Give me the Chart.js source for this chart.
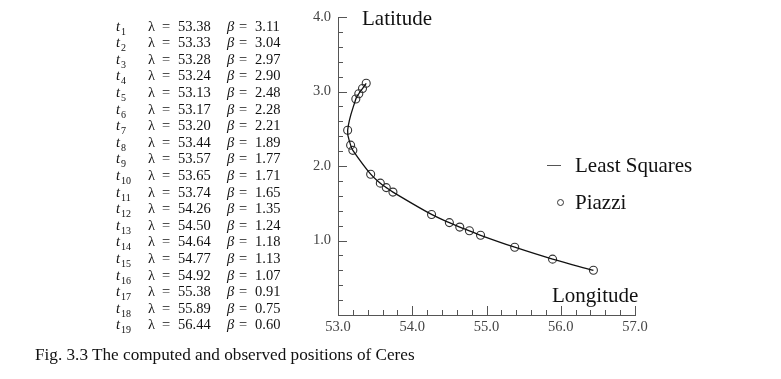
<!DOCTYPE html>
<html>
<head>
<meta charset="utf-8">
<script src="https://cdn.jsdelivr.net/npm/chart.js@4/dist/chart.umd.min.js"></script>
<style>
  html, body { margin: 0; padding: 0; background: #fff; }
  body { width: 781px; height: 379px; position: relative; overflow: hidden;
         font-family: "Liberation Serif", "DejaVu Serif", serif; color: #111; }
  #chartBox { position: absolute; left: 0; top: 0; width: 781px; height: 379px; }
  .abs { position: absolute; white-space: pre; }
  .row { position: absolute; height: 16px; line-height: 16px; font-size: 14.5px; white-space: pre; }
  .row i { font-style: italic; }
  .row sub { font-size: 10px; vertical-align: -4px; line-height: 0; margin-left: 1px; }
  .lbl { font-size: 21px; height: 26px; line-height: 26px; }
  #caption { font-size: 17.2px; height: 22px; line-height: 22px; }
</style>
</head>
<body>
<div id="chartBox"><canvas id="chartCanvas" width="781" height="379"></canvas></div>
<div id="table"></div>
<div class="abs lbl" style="left:362px; top:5px;">Latitude</div>
<div class="abs lbl" style="left:552px; top:282px;">Longitude</div>
<div class="abs" style="left:547px; top:165px; width:14px; height:0; border-top:1.3px solid #555;"></div>
<div class="abs lbl" style="left:575px; top:152px;">Least Squares</div>
<div class="abs" style="left:557px; top:199px; width:5px; height:5px; border:1px solid #333; border-radius:50%;"></div>
<div class="abs lbl" style="left:575px; top:189px;">Piazzi</div>
<div class="abs" id="caption" style="left:35px; top:344px;">Fig. 3.3 The computed and observed positions of Ceres</div>

<script>
// Piazzi observations of Ceres (longitude lambda, latitude beta)
const obsLabels = ['1', '2', '3', '4', '5', '6', '7', '8', '9', '10',
                   '11', '12', '13', '14', '15', '16', '17', '18', '19'];
const longitudes = [53.38, 53.33, 53.28, 53.24, 53.13, 53.17, 53.20, 53.44, 53.57, 53.65,
                    53.74, 54.26, 54.50, 54.64, 54.77, 54.92, 55.38, 55.89, 56.44];
const latitudes = [3.11, 3.04, 2.97, 2.90, 2.48, 2.28, 2.21, 1.89, 1.77, 1.71,
                   1.65, 1.35, 1.24, 1.18, 1.13, 1.07, 0.91, 0.75, 0.60];
const xTickRange = [53, 57];
const yTickRange = [0, 4];

// table of observations on the left
const table = document.getElementById('table');
function addCell(left, top, html) {
  const d = document.createElement('div');
  d.className = 'row';
  d.style.left = left + 'px';
  d.style.top = top + 'px';
  d.innerHTML = html;
  table.appendChild(d);
}
obsLabels.forEach((lab, i) => {
  const top = 25.5 + i * 16.6 - 8;
  addCell(116, top, '<i>t</i><sub>' + lab + '</sub>');
  addCell(148, top, '\u03bb');
  addCell(162, top, '=');
  addCell(178, top, longitudes[i].toFixed(2));
  addCell(227, top, '<i>\u03b2</i>');
  addCell(239, top, '=');
  addCell(255, top, latitudes[i].toFixed(2));
});

const points = longitudes.map((x, i) => ({ x: x, y: latitudes[i] }));

const isMajor = v => Math.abs(v - Math.round(v)) < 1e-6;

// inward ticks, long at whole units and short every 0.2
const innerTicks = {
  id: 'innerTicks',
  afterDraw(chart) {
    const { ctx, chartArea, scales } = chart;
    ctx.save();
    ctx.strokeStyle = '#555';
    ctx.lineWidth = 1;
    scales.x.ticks.forEach(t => {
      const px = Math.round(scales.x.getPixelForValue(t.value)) + 0.5;
      const len = isMajor(t.value) ? 9 : 5;
      ctx.beginPath();
      ctx.moveTo(px, chartArea.bottom);
      ctx.lineTo(px, chartArea.bottom - len);
      ctx.stroke();
    });
    scales.y.ticks.forEach(t => {
      const py = Math.round(scales.y.getPixelForValue(t.value)) + 0.5;
      const len = isMajor(t.value) ? 9 : 5;
      ctx.beginPath();
      ctx.moveTo(chartArea.left, py);
      ctx.lineTo(chartArea.left + len, py);
      ctx.stroke();
    });
    ctx.restore();
  }
};

const tickFont = { family: '"Liberation Serif", serif', size: 14.5 };

new Chart(document.getElementById('chartCanvas').getContext('2d'), {
  type: 'scatter',
  data: {
    datasets: [
      {
        label: 'Least Squares',
        data: points,
        showLine: true,
        tension: 0.4,
        borderColor: '#111',
        borderWidth: 1.3,
        pointRadius: 0,
        fill: false
      },
      {
        label: 'Piazzi',
        data: points,
        showLine: false,
        pointRadius: 4,
        pointBorderWidth: 1.1,
        pointBorderColor: '#333',
        pointBackgroundColor: 'rgba(0,0,0,0)'
      }
    ]
  },
  options: {
    responsive: false,
    animation: false,
    layout: { padding: { left: 298, right: 146, top: 17, bottom: 40 } },
    plugins: { legend: { display: false }, tooltip: { enabled: false } },
    scales: {
      x: {
        type: 'linear',
        min: xTickRange[0],
        max: xTickRange[1],
        afterFit(s) { s.height = 24; },
        grid: { display: false, drawTicks: false },
        border: { display: true, color: '#555', width: 1 },
        ticks: {
          stepSize: 0.2,
          autoSkip: false,
          maxRotation: 0,
          padding: 3,
          color: '#444',
          font: tickFont,
          callback: v => isMajor(v) ? v.toFixed(1) : ''
        }
      },
      y: {
        type: 'linear',
        min: yTickRange[0],
        max: yTickRange[1],
        afterFit(s) { s.width = 40; },
        grid: { display: false, drawTicks: false },
        border: { display: true, color: '#555', width: 1 },
        ticks: {
          stepSize: 0.2,
          autoSkip: false,
          padding: 7,
          color: '#444',
          font: tickFont,
          callback: v => (isMajor(v) && v > 0) ? v.toFixed(1) : ''
        }
      }
    }
  },
  plugins: [innerTicks]
});
</script>
</body>
</html>
